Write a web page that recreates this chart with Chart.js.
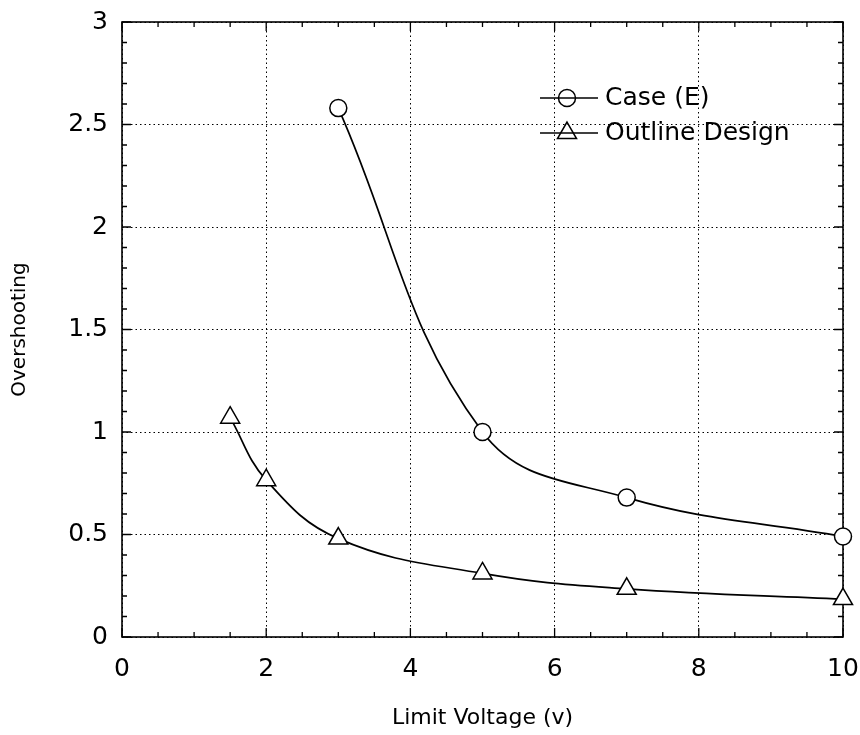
<!DOCTYPE html>
<html>
<head>
<meta charset="utf-8">
<script src="https://cdn.jsdelivr.net/npm/chart.js@4.4.1/dist/chart.umd.min.js"></script>
<style>
  html, body { margin: 0; padding: 0; background: #fff; }
  #wrap { width: 860px; height: 735px; }
</style>
</head>
<body>
<div id="wrap"><canvas id="c" width="860" height="735"></canvas></div>
<script>
// ---- data ----
const caseE_x = [3, 5, 7, 10];
const caseE_y = [2.58, 1.0, 0.68, 0.49];
const outline_x = [1.5, 2, 3, 5, 7, 10];
const outline_y = [1.07, 0.765, 0.48, 0.31, 0.235, 0.185];
const seriesNames = ['Case (E)', 'Outline Design'];
const xTitle = 'Limit Voltage (v)';
const yTitle = 'Overshooting';

const FONT = '"DejaVu Sans", "Liberation Sans", sans-serif';

const toPts = (xs, ys) => xs.map((x, i) => ({ x: x, y: ys[i] }));
const fmt = v => String(Number(v));

const framePlugin = {
  id: 'frameTicks',
  beforeDatasetsDraw(chart) {
    const { ctx, chartArea: a, scales: { x, y } } = chart;
    ctx.save();
    ctx.strokeStyle = '#000';
    ctx.lineWidth = 1.6;
    ctx.strokeRect(a.left, a.top, a.right - a.left, a.bottom - a.top);
    ctx.lineWidth = 1.3;
    ctx.beginPath();
    for (let i = 0; i <= 20; i++) {
      const v = i * 0.5;
      const px = x.getPixelForValue(v);
      const len = (i % 4 === 0) ? 9 : 5;
      ctx.moveTo(px, a.bottom); ctx.lineTo(px, a.bottom - len);
      ctx.moveTo(px, a.top); ctx.lineTo(px, a.top + len);
    }
    for (let i = 0; i <= 30; i++) {
      const v = i * 0.1;
      const py = y.getPixelForValue(v);
      const len = (i % 5 === 0) ? 9 : 5;
      ctx.moveTo(a.left, py); ctx.lineTo(a.left + len, py);
      ctx.moveTo(a.right, py); ctx.lineTo(a.right - len, py);
    }
    ctx.stroke();
    ctx.restore();
  },
  afterDraw(chart) {
    const { ctx } = chart;
    const items = chart.data.datasets;
    const rows = [98, 133];
    ctx.save();
    items.forEach((ds, i) => {
      const yy = rows[i];
      ctx.strokeStyle = '#000';
      ctx.lineWidth = 1.6;
      ctx.beginPath();
      ctx.moveTo(540, yy); ctx.lineTo(598, yy);
      ctx.stroke();
      ctx.fillStyle = 'rgba(255,255,255,0)';
      ctx.strokeStyle = '#000';
      ctx.lineWidth = 1.5;
      Chart.helpers.drawPoint(ctx, {
        pointStyle: ds.pointStyle, radius: ds.pointRadius, rotation: 0, borderWidth: 1.5
      }, 567, yy);
      ctx.fillStyle = '#000';
      ctx.font = '25px ' + FONT;
      ctx.textBaseline = 'middle';
      ctx.textAlign = 'left';
      ctx.fillText(ds.label, 605, yy);
    });
    ctx.restore();
  }
};

new Chart(document.getElementById('c'), {
  type: 'scatter',
  data: {
    datasets: [
      {
        label: seriesNames[0],
        data: toPts(caseE_x, caseE_y),
        showLine: true,
        tension: 0.4,
        borderColor: '#000',
        borderWidth: 1.7,
        pointStyle: 'circle',
        pointRadius: 8.5,
        pointBackgroundColor: '#fff',
        pointBorderColor: '#000',
        pointBorderWidth: 1.5,
        clip: false
      },
      {
        label: seriesNames[1],
        data: toPts(outline_x, outline_y),
        showLine: true,
        tension: 0.4,
        borderColor: '#000',
        borderWidth: 1.7,
        pointStyle: 'triangle',
        pointRadius: 11,
        pointBackgroundColor: '#fff',
        pointBorderColor: '#000',
        pointBorderWidth: 1.5,
        clip: false
      }
    ]
  },
  options: {
    responsive: false,
    animation: false,
    events: [],
    layout: { padding: { top: 22, right: 17, left: 0, bottom: 0 } },
    plugins: { legend: { display: false }, tooltip: { enabled: false } },
    scales: {
      x: {
        type: 'linear',
        min: 0, max: 10,
        afterFit(s) { s.height = 98; s.paddingLeft = 0; s.paddingRight = 0; },
        ticks: { stepSize: 2, color: '#000', padding: 17, font: { family: FONT, size: 25 }, callback: fmt },
        grid: { color: '#000', lineWidth: 1, drawTicks: false },
        border: { display: false, dash: [1.5, 3] },
        title: { display: true, text: xTitle, color: '#000', font: { family: FONT, size: 22 }, padding: { top: 0, bottom: 4 } }
      },
      y: {
        type: 'linear',
        min: 0, max: 3,
        afterFit(s) { s.width = 122; s.paddingTop = 0; s.paddingBottom = 0; },
        ticks: { stepSize: 0.5, color: '#000', padding: 14, font: { family: FONT, size: 25 }, callback: fmt },
        grid: { color: '#000', lineWidth: 1, drawTicks: false },
        border: { display: false, dash: [1.5, 3] },
        title: { display: true, text: yTitle, color: '#000', font: { family: FONT, size: 20 }, padding: { top: 8, bottom: 0 } }
      }
    }
  },
  plugins: [framePlugin]
});
</script>
</body>
</html>
